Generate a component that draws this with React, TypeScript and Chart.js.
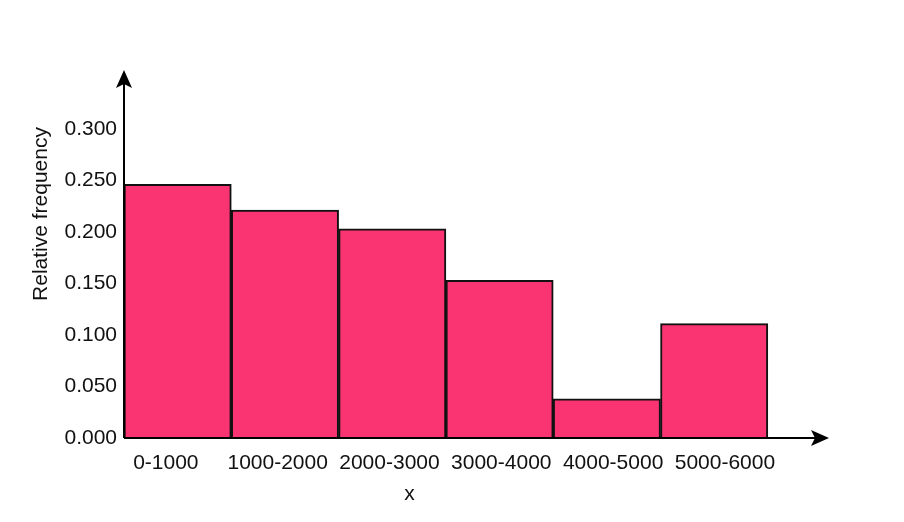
import React, { useEffect, useRef } from "react";
import { Chart, registerables } from "chart.js";

Chart.register(...registerables);

const categories = ["0-1000", "1000-2000", "2000-3000", "3000-4000", "4000-5000", "5000-6000"];
const relFreq = [0.246, 0.221, 0.203, 0.153, 0.038, 0.111];
const yTicks = [0, 0.05, 0.1, 0.15, 0.2, 0.25, 0.3];
// label anchor positions along the x axis (in bar-width units)
const labelStart = 0.39;
const labelStep = 1.042;
const xTitle = "x";
const yTitle = "Relative frequency";

const FONT = "'Liberation Sans', Arial, sans-serif";

const arrowPlugin = {
  id: "arrows",
  afterDraw(chart: any) {
    const { ctx, chartArea } = chart;
    const { left, right, top, bottom } = chartArea;
    ctx.save();
    ctx.strokeStyle = "#000";
    ctx.fillStyle = "#000";
    ctx.lineWidth = 2;
    // y axis
    ctx.beginPath();
    ctx.moveTo(left, bottom);
    ctx.lineTo(left, top + 10);
    ctx.stroke();
    ctx.beginPath();
    ctx.moveTo(left, top);
    ctx.lineTo(left - 8, top + 18);
    ctx.lineTo(left, top + 14);
    ctx.lineTo(left + 8, top + 18);
    ctx.closePath();
    ctx.fill();
    // x axis
    ctx.beginPath();
    ctx.moveTo(left, bottom);
    ctx.lineTo(right - 10, bottom);
    ctx.stroke();
    ctx.beginPath();
    ctx.moveTo(right, bottom);
    ctx.lineTo(right - 18, bottom - 8);
    ctx.lineTo(right - 14, bottom);
    ctx.lineTo(right - 18, bottom + 8);
    ctx.closePath();
    ctx.fill();
    // titles
    ctx.font = `21px ${FONT}`;
    ctx.fillStyle = "#111";
    ctx.textAlign = "center";
    ctx.textBaseline = "middle";
    ctx.fillText(xTitle, left + (right - left) * 0.405, 494);
    ctx.translate(41, 214);
    ctx.rotate(-Math.PI / 2);
    ctx.fillText(yTitle, 0, 0);
    ctx.restore();
  },
};

export default function App() {
  const ref = useRef<HTMLCanvasElement | null>(null);
  useEffect(() => {
    document.body.style.margin = "0";
    const chart = new Chart(ref.current!, {
      type: "bar",
      data: {
        datasets: [
          {
            data: relFreq.map((v, i) => ({ x: i + 0.5, y: v })),
            backgroundColor: "#FA3373",
            borderColor: "#111",
            borderWidth: 2,
            barPercentage: 1,
            categoryPercentage: 1,
            borderSkipped: "bottom",
          },
        ],
      },
      options: {
        animation: false,
        responsive: false,
        layout: { padding: { top: 70, right: 75, left: 0, bottom: 0 } },
        plugins: { legend: { display: false }, tooltip: { enabled: false } },
        scales: {
          x: {
            type: "linear",
            min: 0,
            max: 6.57,
            offset: false,
            grid: { display: false, drawTicks: false, offset: false },
            border: { display: false },
            afterBuildTicks: (s: any) => {
              s.ticks = categories.map((_, i) => ({ value: labelStart + labelStep * i }));
            },
            ticks: {
              callback: (v: any) => categories[Math.round((Number(v) - labelStart) / labelStep)] ?? "",
              autoSkip: false,
              maxRotation: 0,
              padding: 13,
              color: "#111",
              font: { family: FONT, size: 21 },
            },
            afterFit: (s: any) => {
              s.height = 84;
            },
          },
          y: {
            min: 0,
            max: 0.357,
            grid: { display: false, drawTicks: false },
            border: { display: false },
            afterBuildTicks: (s: any) => {
              s.ticks = yTicks.map((v) => ({ value: v }));
            },
            ticks: {
              callback: (v: any) => Number(v).toFixed(3),
              padding: 7,
              color: "#111",
              font: { family: FONT, size: 21 },
            },
            afterFit: (s: any) => {
              s.width = 124;
            },
          },
        },
      },
      plugins: [arrowPlugin],
    });
    return () => chart.destroy();
  }, []);
  return (
    <div style={{ position: "absolute", left: 0, top: 0, width: 904, height: 522, background: "#fff" }}>
      <canvas ref={ref} width={904} height={522} />
    </div>
  );
}
